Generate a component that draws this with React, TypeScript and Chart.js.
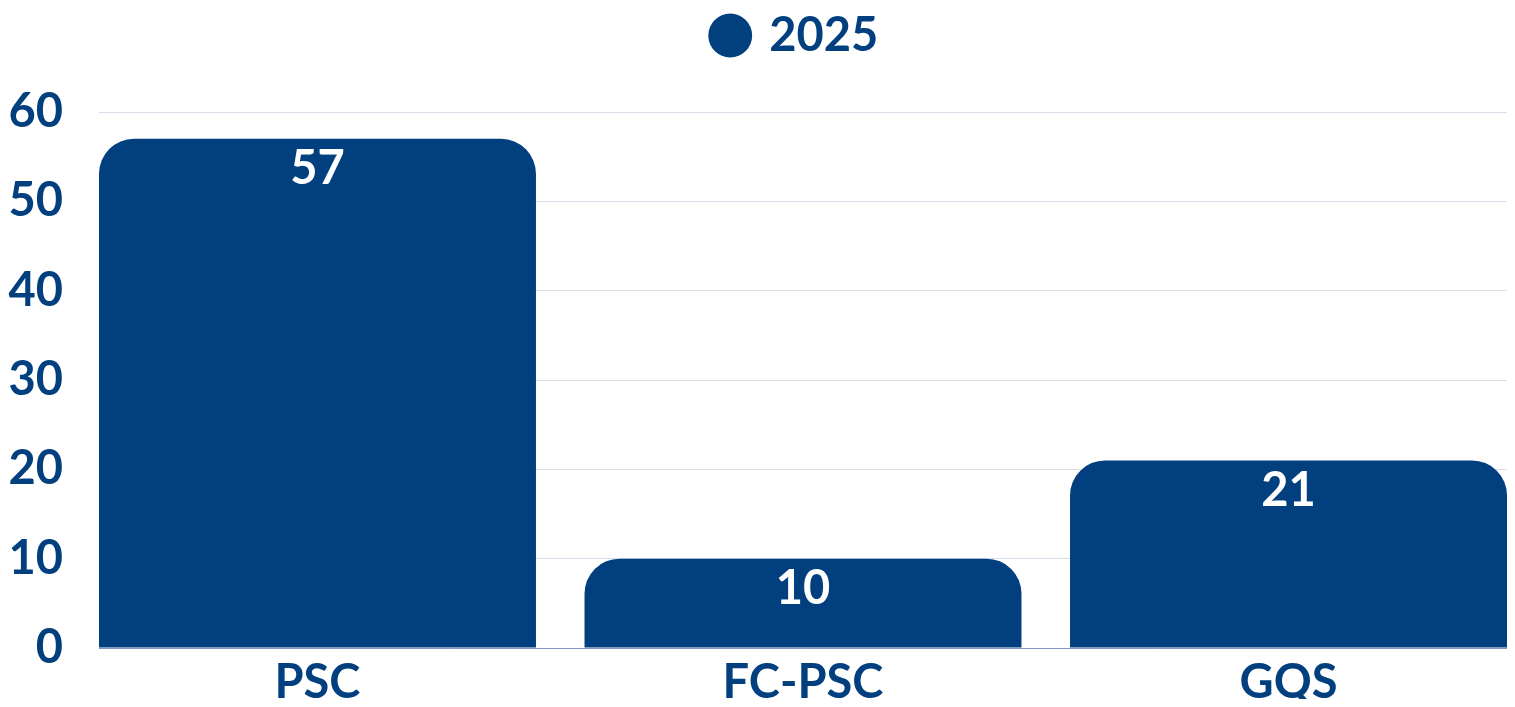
import React, { useEffect, useRef } from "react";
import { Chart, registerables } from "chart.js";

Chart.register(...registerables);

const categories = ["PSC", "FC-PSC", "GQS"];
const seriesLabel = "2025";
const values = [57, 10, 21];
const yTicks = [0, 10, 20, 30, 40, 50, 60];

const BLUE = "#013F7F";
const FONT = "Lato";
const FS = 47;
const W = 1499;
const H = 699;

export default function App() {
  const ref = useRef<HTMLCanvasElement | null>(null);

  useEffect(() => {
    if (!ref.current) return;

    const legendSpace = {
      id: "legendSpace",
      beforeLayout(chart: any) {
        const lg = chart.legend;
        if (lg && !lg._patched) {
          const f = lg.fit;
          lg.fit = function () {
            f.call(this);
            this.height += 43;
          };
          const d = lg.draw;
          lg.draw = function () {
            const ctx = this.ctx;
            ctx.save();
            ctx.translate(39, 0);
            d.call(this);
            ctx.restore();
          };
          lg._patched = true;
        }
      },
    };

    const valueLabels = {
      id: "valueLabels",
      afterDatasetsDraw(chart: any) {
        const ctx = chart.ctx;
        const meta = chart.getDatasetMeta(0);
        ctx.save();
        ctx.fillStyle = "#ffffff";
        ctx.font = `bold ${FS}px ${FONT}`;
        ctx.textAlign = "center";
        ctx.textBaseline = "middle";
        meta.data.forEach((bar: any, i: number) => {
          ctx.fillText(String(values[i]), bar.x, bar.y + 30);
        });
        ctx.restore();
      },
    };

    const chart = new Chart(ref.current, {
      type: "bar",
      data: {
        datasets: [
          {
            label: seriesLabel,
            data: values.map((v, i) => ({ x: i, y: v })),
            backgroundColor: BLUE,
            borderColor: BLUE,
            borderWidth: 0,
            borderRadius: { topLeft: 35, topRight: 35, bottomLeft: 0, bottomRight: 0 },
            borderSkipped: "bottom",
            barPercentage: 0.9,
            categoryPercentage: 1,
          },
        ],
      },
      options: {
        animation: false,
        responsive: false,
        maintainAspectRatio: false,
        layout: { padding: 0 },
        plugins: {
          legend: {
            display: true,
            position: "top",
            labels: {
              usePointStyle: true,
              pointStyle: "circle",
              boxHeight: 31,
              boxWidth: 31,
              padding: 4,
              color: BLUE,
              font: { family: FONT, size: FS, weight: "bold" },
            },
          },
          tooltip: { enabled: false },
        },
        scales: {
          x: {
            type: "linear",
            min: -0.45,
            max: 2.45,
            offset: false,
            grid: { display: false, drawTicks: false },
            border: { display: true, color: "#7d97c2", width: 1 },
            afterBuildTicks: (axis: any) => {
              axis.ticks = categories.map((_, i) => ({ value: i }));
            },
            afterFit: (scale: any) => {
              scale.height = 59;
              scale.paddingLeft = 0;
              scale.paddingRight = 0;
            },
            ticks: {
              autoSkip: false,
              maxRotation: 0,
              padding: 7,
              color: BLUE,
              font: { family: FONT, size: FS, weight: "bold" },
              callback: (v: any) => categories[v as number] ?? "",
            },
          },
          y: {
            min: 0,
            max: 60,
            afterBuildTicks: (axis: any) => {
              axis.ticks = yTicks.map((v) => ({ value: v }));
            },
            afterFit: (scale: any) => {
              scale.width = 91;
              scale.paddingTop = 0;
              scale.paddingBottom = 0;
            },
            grid: { color: "#d8dfea", drawTicks: false, lineWidth: 1 },
            border: { display: false },
            ticks: {
              padding: 36,
              color: BLUE,
              font: { family: FONT, size: FS, weight: "bold" },
            },
          },
        },
      },
      plugins: [legendSpace, valueLabels],
    } as any);

    return () => chart.destroy();
  }, []);

  return (
    <div style={{ position: "relative", width: `${W}px`, height: `${H}px`, marginBottom: "-8px" }}>
      <canvas ref={ref} width={W} height={H} style={{ display: "block", width: `${W}px`, height: `${H}px` }} />
    </div>
  );
}
